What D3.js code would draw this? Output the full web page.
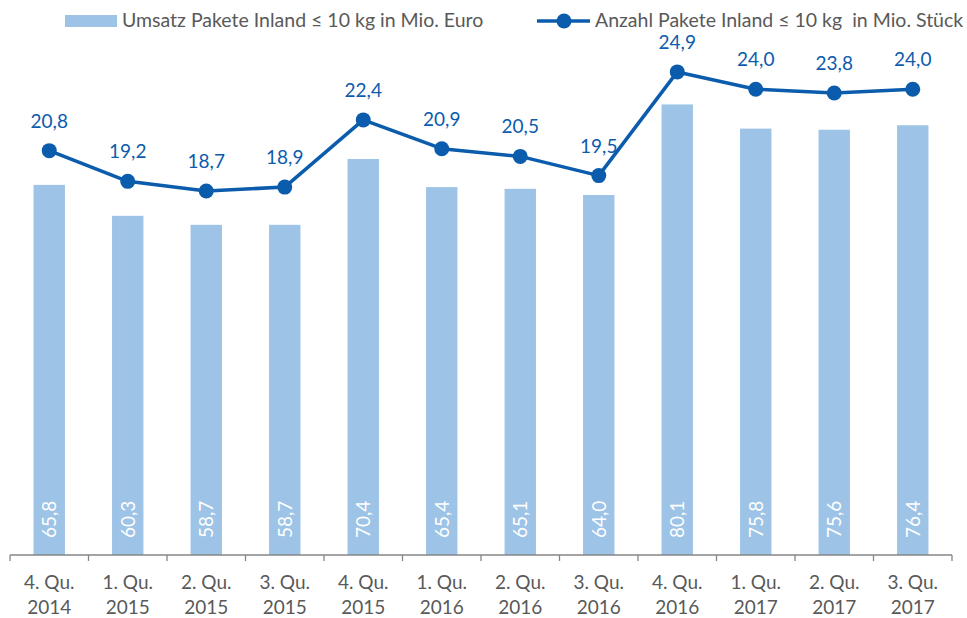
<!DOCTYPE html>
<html>
<head>
<meta charset="utf-8">
<script src="https://cdn.jsdelivr.net/npm/d3@7"></script>
<style>
  body { margin: 0; background: #fff; }
  svg { font-family: Lato, "Open Sans", sans-serif; }
</style>
</head>
<body>
<script>
// data
const quarters = ['4. Qu.', '1. Qu.', '2. Qu.', '3. Qu.', '4. Qu.', '1. Qu.', '2. Qu.', '3. Qu.', '4. Qu.', '1. Qu.', '2. Qu.', '3. Qu.']
const years = ['2014', '2015', '2015', '2015', '2015', '2016', '2016', '2016', '2016', '2017', '2017', '2017']
const umsatz = [65.8, 60.3, 58.7, 58.7, 70.4, 65.4, 65.1, 64.0, 80.1, 75.8, 75.6, 76.4]
const anzahl = [20.8, 19.2, 18.7, 18.9, 22.4, 20.9, 20.5, 19.5, 24.9, 24.0, 23.8, 24.0]
const legendBar = 'Umsatz Pakete Inland ≤ 10 kg in Mio. Euro'
const legendLine = 'Anzahl Pakete Inland ≤ 10 kg  in Mio. Stück'

let width = 967
let height = 618
const barColor = '#9DC3E6'
const lineColor = '#0B5CAD'
const grey = '#595959'

const fmt = v => v.toFixed(1).replace('.', ',')

const data = quarters.map((q, i) => ({ key: i, q: q, year: years[i], u: umsatz[i], a: anzahl[i] }))

const svg = d3.select('body')
  .append('svg')
  .attr('width', width)
  .attr('height', height)

const x = d3.scaleBand()
  .domain(data.map(d => d.key))
  .range([10, 952])
  .paddingInner(0.6)
  .paddingOuter(0.3)

const y = d3.scaleLinear()
  .domain([0, 100])
  .range([555, -7.5])

const y2 = d3.scaleLinear()
  .domain([0, 30])
  .range([550, -26])

const cx = d => x(d.key) + x.bandwidth() / 2

// bars
svg.selectAll('rect.bar')
  .data(data)
  .enter()
  .append('rect')
  .attr('class', 'bar')
  .attr('x', d => x(d.key))
  .attr('y', d => y(d.u))
  .attr('width', x.bandwidth())
  .attr('height', d => y(0) - y(d.u))
  .style('fill', barColor)

// bar labels (rotated, white)
svg.selectAll('text.barlabel')
  .data(data)
  .enter()
  .append('text')
  .attr('class', 'barlabel')
  .attr('transform', d => `translate(${cx(d) + 7},${y(0) - 17}) rotate(-90)`)
  .style('font-size', '19px')
  .style('fill', '#fff')
  .text(d => fmt(d.u))

// axis line + ticks between categories
const step = x.step()
const x0 = x.range()[0]
svg.append('line')
  .attr('x1', x0).attr('x2', x.range()[1])
  .attr('y1', y(0)).attr('y2', y(0))
  .style('stroke', '#868686').style('stroke-width', 1.3)
svg.selectAll('line.tick')
  .data(d3.range(data.length + 1))
  .enter()
  .append('line')
  .attr('class', 'tick')
  .attr('x1', i => x0 + i * step).attr('x2', i => x0 + i * step)
  .attr('y1', y(0)).attr('y2', y(0) + 6)
  .style('stroke', '#868686').style('stroke-width', 1.3)

// category labels
const cat = svg.selectAll('text.cat')
  .data(data)
  .enter()
  .append('text')
  .attr('class', 'cat')
  .attr('text-anchor', 'middle')
  .style('font-size', '19px')
  .style('fill', grey)
cat.append('tspan').attr('x', cx).attr('y', 589).text(d => d.q)
cat.append('tspan').attr('x', cx).attr('y', 614).text(d => d.year)

// line
const line = d3.line()
  .x(cx)
  .y(d => y2(d.a))
svg.append('path')
  .datum(data)
  .attr('d', line)
  .style('fill', 'none')
  .style('stroke', lineColor)
  .style('stroke-width', 3.5)
  .style('stroke-linejoin', 'round')

svg.selectAll('circle.pt')
  .data(data)
  .enter()
  .append('circle')
  .attr('class', 'pt')
  .attr('cx', cx)
  .attr('cy', d => y2(d.a))
  .attr('r', 7.5)
  .style('fill', lineColor)

svg.selectAll('text.linelabel')
  .data(data)
  .enter()
  .append('text')
  .attr('class', 'linelabel')
  .attr('x', cx)
  .attr('y', d => y2(d.a) - 23)
  .attr('text-anchor', 'middle')
  .style('font-size', '19px')
  .style('fill', lineColor)
  .text(d => fmt(d.a))

// legend
svg.append('rect')
  .attr('x', 65).attr('y', 15).attr('width', 52).attr('height', 12)
  .style('fill', barColor)
svg.append('text')
  .attr('x', 122).attr('y', 27)
  .style('font-size', '19.5px').style('fill', grey)
  .style('white-space', 'pre')
  .text(legendBar)

svg.append('line')
  .attr('x1', 537).attr('x2', 590).attr('y1', 21).attr('y2', 21)
  .style('stroke', lineColor).style('stroke-width', 3.5)
svg.append('circle')
  .attr('cx', 564).attr('cy', 21).attr('r', 7.5)
  .style('fill', lineColor)
svg.append('text')
  .attr('x', 595).attr('y', 27)
  .style('font-size', '19.5px').style('fill', grey)
  .style('white-space', 'pre')
  .text(legendLine)
</script>
</body>
</html>
